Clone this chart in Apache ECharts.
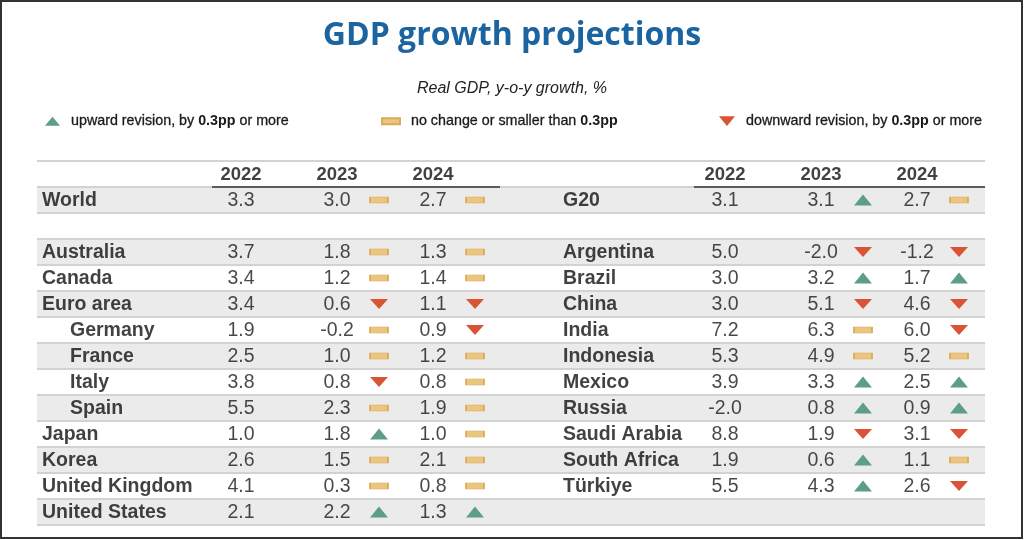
<!DOCTYPE html>
<html>
<head>
<meta charset="utf-8">
<script src="https://cdn.jsdelivr.net/npm/echarts@6/dist/echarts.min.js"></script>
<style>
  html, body { margin: 0; padding: 0; background: #fff; }
  #main { width: 1024px; height: 540px; }
</style>
</head>
<body>
<div id="main"></div>
<script>
// 表头年份
var years = ['2022', '2023', '2024'];

// 左表：发达经济体
var leftNames = ['World', '', 'Australia', 'Canada', 'Euro area', 'Germany', 'France', 'Italy', 'Spain', 'Japan', 'Korea', 'United Kingdom', 'United States'];
var leftIndented = ['Germany', 'France', 'Italy', 'Spain'];
var left2022 = [3.3, null, 3.7, 3.4, 3.4, 1.9, 2.5, 3.8, 5.5, 1.0, 2.6, 4.1, 2.1];
var left2023 = [3.0, null, 1.8, 1.2, 0.6, -0.2, 1.0, 0.8, 2.3, 1.8, 1.5, 0.3, 2.2];
var left2024 = [2.7, null, 1.3, 1.4, 1.1, 0.9, 1.2, 0.8, 1.9, 1.0, 2.1, 0.8, 1.3];
var leftRev2023 = ['same', null, 'same', 'same', 'down', 'same', 'same', 'down', 'same', 'up', 'same', 'same', 'up'];
var leftRev2024 = ['same', null, 'same', 'same', 'down', 'down', 'same', 'same', 'same', 'same', 'same', 'same', 'up'];

// 右表：G20 其他经济体
var rightNames = ['G20', '', 'Argentina', 'Brazil', 'China', 'India', 'Indonesia', 'Mexico', 'Russia', 'Saudi Arabia', 'South Africa', 'Türkiye'];
var right2022 = [3.1, null, 5.0, 3.0, 3.0, 7.2, 5.3, 3.9, -2.0, 8.8, 1.9, 5.5];
var right2023 = [3.1, null, -2.0, 3.2, 5.1, 6.3, 4.9, 3.3, 0.8, 1.9, 0.6, 4.3];
var right2024 = [2.7, null, -1.2, 1.7, 4.6, 6.0, 5.2, 2.5, 0.9, 3.1, 1.1, 2.6];
var rightRev2023 = ['up', null, 'down', 'up', 'down', 'same', 'same', 'up', 'up', 'down', 'up', 'up'];
var rightRev2024 = ['same', null, 'down', 'up', 'down', 'down', 'same', 'up', 'up', 'down', 'same', 'down'];

// 图例文字
var revLabels = {
  up: '{n|upward revision, by }{b|0.3pp}{n| or more}',
  same: '{n|no change or smaller than }{b|0.3pp}',
  down: '{n|downward revision, by }{b|0.3pp}{n| or more}'
};

(function () {
  var myChart = echarts.init(document.getElementById('main'));
  var font = "'Liberation Sans', Arial, sans-serif";

  // 列的横向位置（相对表格左边）
  var colL = { name: 5, indent: 33, v: [204, 300, 396], icon: [342, 438] };
  var colR = { name: 526, v: [688, 784, 880], icon: [826, 922] };

  // 行号 -> y 值（表头在 0.5）
  function rowY(i) { return i + 1.5; }

  var nameData = [], valueData = [], headData = [];
  var revData = { up: [], same: [], down: [] };

  function addTable(col, names, v22, v23, v24, r23, r24) {
    names.forEach(function (n, i) {
      if (!n) return;
      var x = leftIndented.indexOf(n) >= 0 ? colL.indent : col.name;
      nameData.push([x, rowY(i), n]);
      [v22, v23, v24].forEach(function (arr, k) {
        if (arr[i] !== null) valueData.push([col.v[k], rowY(i), arr[i].toFixed(1)]);
      });
      [r23, r24].forEach(function (arr, k) {
        if (arr[i]) revData[arr[i]].push([col.icon[k], rowY(i)]);
      });
    });
    years.forEach(function (y, k) {
      headData.push([col.v[k], 0.5, y]);
    });
  }
  addTable(colL, leftNames, left2022, left2023, left2024, leftRev2023, leftRev2024);
  addTable(colR, rightNames, right2022, right2023, right2024, rightRev2023, rightRev2024);

  var upPath = 'path://M5,0L10,6L0,6Z';
  var downPath = 'path://M0,0L10,0L5,6Z';

  function legendFor(name, left, icon, w, h) {
    return {
      data: [{ name: name, icon: icon }],
      left: left,
      top: 114,
      padding: 0,
      itemWidth: w,
      itemHeight: h,
      selectedMode: false,
      formatter: function (n) { return revLabels[n]; },
      textStyle: {
        padding: [0, 0, 0, 6],
        rich: {
          n: { fontFamily: font, fontSize: 14.3, color: '#1a1a1a', lineHeight: 16, textBorderColor: '#1a1a1a', textBorderWidth: 0.3 },
          b: { fontFamily: font, fontSize: 14.3, fontWeight: 'bold', color: '#1a1a1a', lineHeight: 16 }
        }
      }
    };
  }

  function textLabel(size, weight, color) {
    return {
      show: true,
      position: 'inside',
      formatter: function (p) { return p.value[2]; },
      fontFamily: font,
      fontSize: size,
      fontWeight: weight,
      color: color,
      textBorderWidth: 0,
      offset: [0, 1]
    };
  }

  var nameLabel = textLabel(19.5, 'bold', '#111');
  nameLabel.align = 'left';

  var option = {
    backgroundColor: '#fff',
    animation: false,
    title: [
      {
        text: 'GDP growth projections',
        left: 'center',
        top: 15,
        textStyle: { fontFamily: "'Open Sans', sans-serif", fontSize: 32, fontWeight: 'bold', color: '#1b64a0' }
      },
      {
        text: 'Real GDP, y-o-y growth, %',
        left: 'center',
        top: 76,
        textStyle: { fontFamily: font, fontSize: 16, fontStyle: 'italic', fontWeight: 'normal', color: '#222' }
      }
    ],
    legend: [
      legendFor('up', 45, upPath, 15, 10),
      legendFor('same', 381, 'rect', 18, 6),
      legendFor('down', 719, downPath, 16, 10)
    ],
    grid: { left: 37, right: 39, top: 161, height: 364 },
    xAxis: { type: 'value', min: 0, max: 948, show: false },
    yAxis: {
      type: 'value',
      min: 0,
      max: 14,
      interval: 1,
      inverse: true,
      axisLine: { show: false },
      axisTick: { show: false },
      axisLabel: { show: false },
      splitLine: { show: true, lineStyle: { color: '#d2d2d2', width: 2 } },
      splitArea: { show: true, areaStyle: { color: ['#ffffff', '#ebebeb'] } }
    },
    graphic: [
      { type: 'rect', shape: { x: 1, y: 1, width: 1021, height: 537 }, style: { fill: 'none', stroke: '#333', lineWidth: 2 }, silent: true }
    ],
    series: [
      {
        name: 'names',
        type: 'scatter',
        symbolSize: 0,
        data: nameData,
        silent: true,
        label: nameLabel
      },
      {
        name: 'values',
        type: 'scatter',
        symbolSize: 0,
        data: valueData,
        silent: true,
        label: textLabel(19.5, 'normal', '#1a1a1a')
      },
      {
        name: 'header',
        type: 'scatter',
        symbolSize: 0,
        data: headData,
        silent: true,
        label: textLabel(18.5, 'bold', '#111'),
        // 年份下方的深色横线
        markLine: {
          silent: true,
          symbol: 'none',
          label: { show: false },
          lineStyle: { color: '#333', width: 1.5, type: 'solid' },
          data: [
            [{ coord: [175, 1] }, { coord: [463, 1] }],
            [{ coord: [657, 1] }, { coord: [948, 1] }]
          ]
        }
      },
      {
        name: 'up',
        type: 'scatter',
        symbol: upPath,
        symbolSize: [18, 11],
        data: revData.up,
        itemStyle: { color: '#5e9e88', opacity: 1 }
      },
      {
        name: 'same',
        type: 'scatter',
        symbol: 'rect',
        symbolSize: [18, 6],
        data: revData.same,
        itemStyle: { color: '#edc57c', borderColor: '#d8aa5a', borderWidth: 1, opacity: 1 }
      },
      {
        name: 'down',
        type: 'scatter',
        symbol: downPath,
        symbolSize: [18, 10],
        data: revData.down,
        itemStyle: { color: '#d85434', opacity: 1 }
      }
    ]
  };

  myChart.setOption(option);
  window.addEventListener('resize', function () {
    myChart.resize();
  });
})();
</script>
</body>
</html>
